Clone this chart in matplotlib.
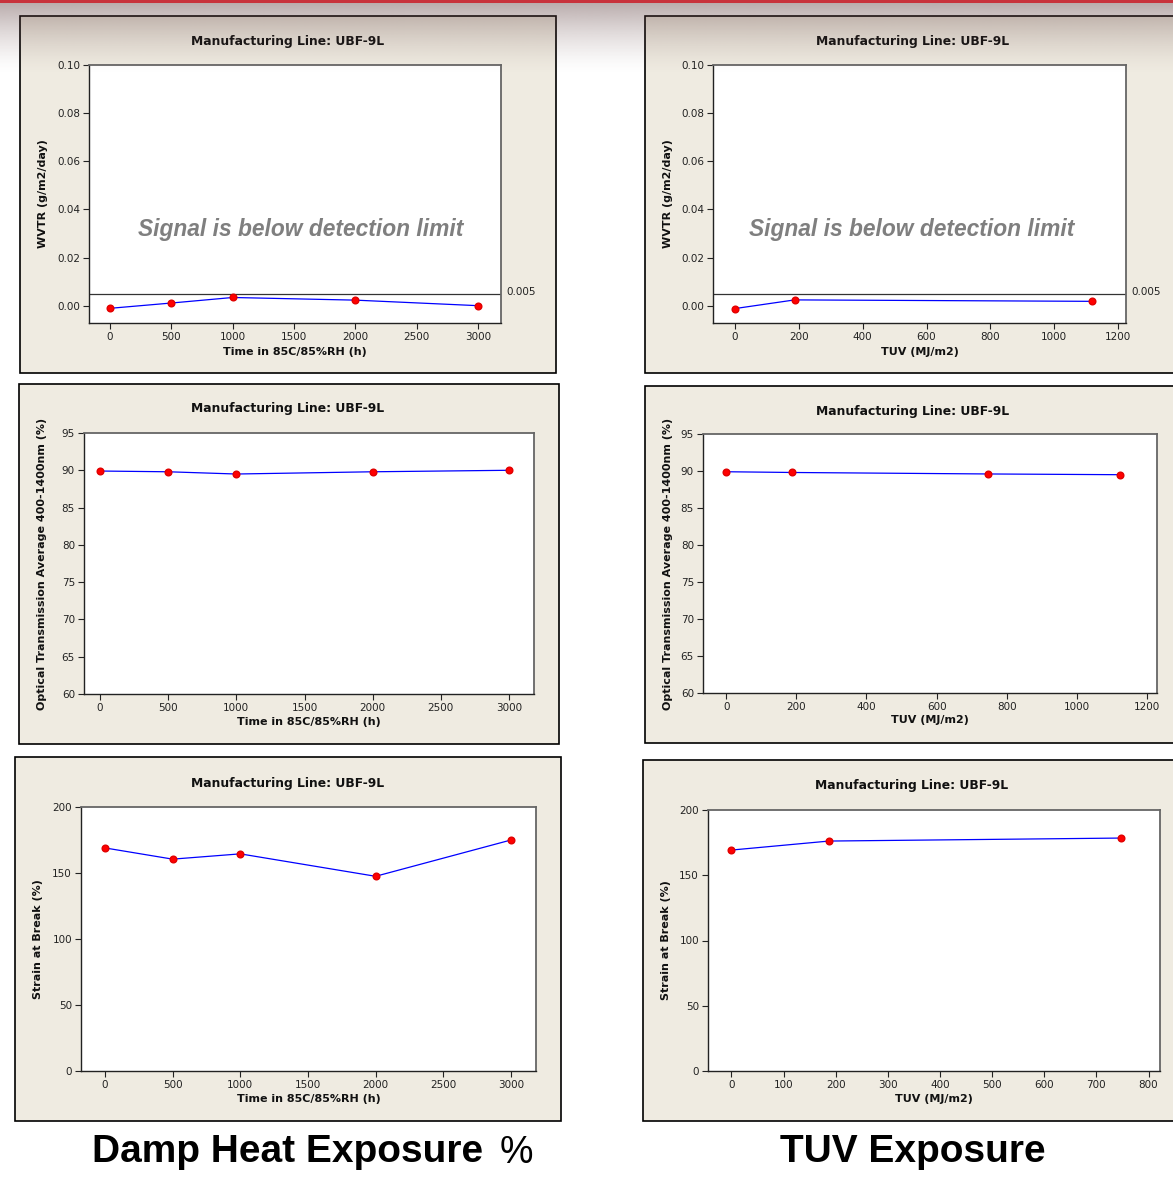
import numpy as np
import matplotlib
matplotlib.use("Agg")
import matplotlib.pyplot as plt
from matplotlib.patches import Rectangle
import matplotlib.transforms as mtransforms

W, H = 1173, 1181

# ---------------- data ----------------
dh_time = [0, 500, 1000, 2000, 3000]
dh_wvtr = [-0.0011, 0.0011, 0.0034, 0.0023, 0.0000]
dh_optical = [89.9, 89.8, 89.5, 89.8, 90.0]
dh_strain = [169, 160.5, 164.5, 147.5, 175]

tuv_wvtr_x = [0, 187, 1120]
tuv_wvtr = [-0.0012, 0.0024, 0.0018]
tuv_opt_x = [0, 188, 746, 1122]
tuv_optical = [89.9, 89.8, 89.6, 89.5]
tuv_strain_x = [0, 187, 747]
tuv_strain = [169.3, 176.2, 178.5]

detection_limit = 0.005
title_txt = "Manufacturing Line: UBF-9L"
dh_xlabel = "Time in 85C/85%RH (h)"
tuv_xlabel = "TUV (MJ/m2)"
wvtr_label = "WVTR (g/m2/day)"
opt_label = "Optical Transmission Average 400-1400nm (%)"
strain_label = "Strain at Break (%)"
signal_txt = "Signal is below detection limit"
col_titles = ["Damp Heat Exposure", "TUV Exposure"]

# ---------------- figure ----------------
fig = plt.figure(figsize=(W / 100, H / 100), dpi=100)
fig.patch.set_facecolor("white")

BEIGE = "#EFEBE1"
FONT = ["DejaVu Sans"]


def fx(x):
    return x / W


def fy(y):
    return 1 - y / H


def panel(l, t, r, b):
    fig.patches.append(Rectangle((fx(l), fy(b)), fx(r - l), (b - t) / H,
                                 transform=fig.transFigure, facecolor=BEIGE,
                                 edgecolor="black", linewidth=1.2, zorder=-5))


def make_ax(l, t, r, b):
    ax = fig.add_axes([fx(l), fy(b), fx(r - l), (b - t) / H], zorder=2)
    ax.set_facecolor("white")
    for s in ["left", "bottom"]:
        ax.spines[s].set_color("#222222")
        ax.spines[s].set_linewidth(1.0)
    for s in ["top", "right"]:
        ax.spines[s].set_color("#666666")
        ax.spines[s].set_linewidth(1.3)
    ax.tick_params(axis="both", direction="out", length=4, width=0.8,
                   labelsize=7.5, colors="#222222", pad=2.5, top=False, right=False)
    return ax


def plot_series(ax, x, y):
    ax.plot(x, y, color="#0000FF", linewidth=0.9, zorder=3)
    ax.plot(x, y, linestyle="none", marker="o", markersize=4.8,
            color="#FF0000", markeredgecolor="#E00000", zorder=4)


def ftext(x, y, s, **kw):
    kw.setdefault("fontfamily", FONT)
    fig.text(fx(x), fy(y), s, ha="center", va="center", zorder=3, **kw)


specs = [
    dict(p=(20, 16, 556, 373), a=(89, 65, 501, 323), xlim=(-171, 3187),
         xt=np.arange(0, 3001, 500), kind="wvtr", x=dh_time, y=dh_wvtr,
         tx=288, ty=42, xl=dh_xlabel, xly=352, ylx=43, sx=0.515),
    dict(p=(645, 16, 1185, 373), a=(713, 65, 1126, 323), xlim=(-69, 1225),
         xt=np.arange(0, 1201, 200), kind="wvtr", x=tuv_wvtr_x, y=tuv_wvtr,
         tx=913, ty=42, xl=tuv_xlabel, xly=352, ylx=668, sx=0.482),
    dict(p=(19, 384, 559, 744), a=(84, 433, 534, 694), xlim=(-117, 3183),
         xt=np.arange(0, 3001, 500), kind="opt", x=dh_time, y=dh_optical,
         tx=288, ty=409, xl=dh_xlabel, xly=722, ylx=42),
    dict(p=(645, 386, 1185, 743), a=(703, 434, 1157, 693), xlim=(-66, 1228),
         xt=np.arange(0, 1201, 200), kind="opt", x=tuv_opt_x, y=tuv_optical,
         tx=913, ty=411, xl=tuv_xlabel, xly=720, ylx=668),
    dict(p=(15, 757, 561, 1121), a=(81, 807, 536, 1071), xlim=(-177, 3185),
         xt=np.arange(0, 3001, 500), kind="strain", x=dh_time, y=dh_strain,
         tx=288, ty=783, xl=dh_xlabel, xly=1099, ylx=38),
    dict(p=(643, 760, 1185, 1121), a=(708, 810, 1160, 1071), xlim=(-45, 822),
         xt=np.arange(0, 801, 100), kind="strain", x=tuv_strain_x, y=tuv_strain,
         tx=912, ty=786, xl=tuv_xlabel, xly=1099, ylx=666),
]

for s in specs:
    panel(*s["p"])
for s in specs:
    l, t, r, b = s["a"]
    ax = make_ax(l, t, r, b)
    ax.set_xlim(*s["xlim"])
    ax.set_xticks(s["xt"])
    ax.set_xticklabels([f"{v:d}" for v in s["xt"]], fontfamily=FONT, fontsize=7.5)
    if s["kind"] == "wvtr":
        ax.set_ylim(-0.0072, 0.1)
        yt = [0.0, 0.02, 0.04, 0.06, 0.08, 0.10]
        ax.set_yticks(yt)
        ax.set_yticklabels([f"{v:.2f}" for v in yt], fontfamily=FONT, fontsize=7.5)
        ax.axhline(detection_limit, color="#333333", linewidth=0.9, zorder=2)
        trans = mtransforms.blended_transform_factory(ax.transAxes, ax.transData)
        ax.text(1.012, detection_limit + 0.0005, f"{detection_limit:g}", transform=trans,
                ha="left", va="center", fontsize=7.5, color="#222222", fontfamily=FONT,
                clip_on=False)
        ax.text(s["sx"], 0.364, signal_txt, transform=ax.transAxes,
                ha="center", va="center", fontsize=16.4, color="#7F7F7F",
                fontweight="bold", fontstyle="italic",
                fontfamily=["Liberation Sans", "DejaVu Sans"])
        ylab = wvtr_label
    elif s["kind"] == "opt":
        ax.set_ylim(60, 95)
        yt = list(range(60, 96, 5))
        ax.set_yticks(yt)
        ax.set_yticklabels([str(v) for v in yt], fontfamily=FONT, fontsize=7.5)
        ylab = opt_label
    else:
        ax.set_ylim(0, 200)
        yt = list(range(0, 201, 50))
        ax.set_yticks(yt)
        ax.set_yticklabels([str(v) for v in yt], fontfamily=FONT, fontsize=7.5)
        ylab = strain_label
    plot_series(ax, s["x"], s["y"])

    ftext(s["tx"], s["ty"], title_txt, fontsize=8.9, fontweight="bold", color="#111111")
    ftext((l + r) / 2, s["xly"], s["xl"], fontsize=8, fontweight="bold", color="#111111")
    ftext(s["ylx"], (t + b) / 2, ylab, fontsize=8, fontweight="bold", color="#111111",
          rotation=90)

# bottom column captions
cap_font = ["Liberation Sans", "DejaVu Sans"]
fig.text(fx(92), fy(1152), col_titles[0], ha="left", va="center", fontsize=28,
         fontweight="bold", fontfamily=cap_font, color="black")
fig.text(fx(533), fy(1153), "%", ha="right", va="center", fontsize=27,
         fontfamily=cap_font, color="black")
fig.text(fx(913), fy(1152), col_titles[1], ha="center", va="center", fontsize=28,
         fontweight="bold", fontfamily=cap_font, color="black")

# top gradient band and red rule
gax = fig.add_axes([0, fy(75), 1, 75 / H], zorder=10)
gax.axis("off")
n = 200
tt = np.linspace(0, 1, n)[:, None]
alpha = 0.45 * (1 - tt) ** 1.5
img = np.zeros((n, 2, 4))
img[..., 0] = 92 / 255
img[..., 1] = 60 / 255
img[..., 2] = 60 / 255
img[..., 3] = alpha
gax.imshow(img, aspect="auto", extent=(0, 1, 0, 1), origin="upper")
gax.set_xlim(0, 1)
gax.set_ylim(0, 1)
fig.patches.append(Rectangle((0, fy(2.5)), 1, 2.5 / H, transform=fig.transFigure,
                             facecolor="#C8323C", edgecolor="none", zorder=20))

fig.savefig("out.png", dpi=100, facecolor="white")
